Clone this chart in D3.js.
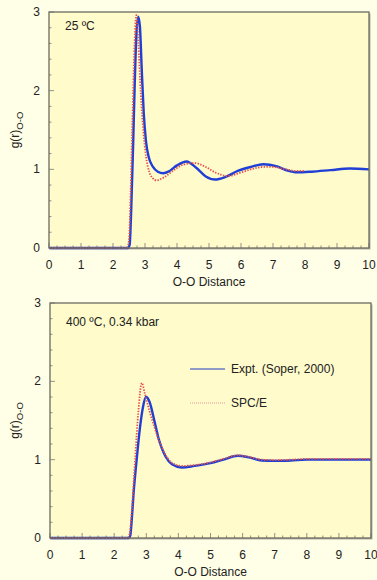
<!DOCTYPE html>
<html>
<head>
<meta charset="utf-8">
<script src="https://cdn.jsdelivr.net/npm/d3@7"></script>
<style>
  body { margin: 0; background: #fffee6; }
  svg { display: block; font-family: "Liberation Sans", Arial, sans-serif; }
</style>
</head>
<body>
<svg id="chart" width="377" height="580"></svg>
<script>
// tick labels
const xTicks = [0, 1, 2, 3, 4, 5, 6, 7, 8, 9, 10];
const yTicks = [0, 1, 2, 3];

// 25 C, experiment (Soper 2000)
const expt25R = [0, 2.46, 2.52, 2.57, 2.63, 2.68, 2.73, 2.79, 2.84, 2.9, 2.96, 3.03, 3.12, 3.25, 3.4, 3.57, 3.75, 4.0, 4.3, 4.6, 4.9, 5.19, 5.5, 5.9, 6.3, 6.7, 7.1, 7.45, 7.75, 8.2, 8.8, 9.4, 10];
const expt25G = [0, 0, 0.04, 0.5, 1.33, 2.1, 2.7, 2.94, 2.82, 2.25, 1.72, 1.36, 1.15, 1.03, 0.97, 0.95, 0.975, 1.05, 1.1, 1.02, 0.91, 0.87, 0.9, 0.98, 1.03, 1.064, 1.04, 0.985, 0.962, 0.97, 0.99, 1.01, 1.0];
// 25 C, SPC/E
const spce25R = [0, 2.44, 2.5, 2.55, 2.6, 2.65, 2.7, 2.73, 2.79, 2.87, 2.95, 3.03, 3.14, 3.25, 3.36, 3.6, 3.9, 4.2, 4.55, 4.9, 5.2, 5.6, 6.0, 6.4, 6.7, 7.0, 7.4, 7.7, 8.0];
const spce25G = [0, 0, 0.1, 0.7, 1.5, 2.3, 2.85, 2.96, 2.62, 1.95, 1.48, 1.17, 0.96, 0.885, 0.86, 0.9, 0.99, 1.06, 1.08, 1.03, 0.96, 0.915, 0.96, 1.01, 1.03, 1.03, 1.0, 0.98, 0.98];

// 400 C, 0.34 kbar, experiment
const expt400R = [0, 2.45, 2.5, 2.55, 2.6, 2.7, 2.8, 2.9, 2.99, 3.1, 3.25, 3.37, 3.6, 3.8, 4.1, 4.5, 5.0, 5.4, 5.85, 6.2, 6.6, 7.0, 7.5, 8.0, 9.0, 10];
const expt400G = [0, 0, 0.03, 0.25, 0.55, 1.0, 1.4, 1.68, 1.8, 1.74, 1.5, 1.29, 1.04, 0.94, 0.9, 0.92, 0.955, 1.0, 1.05, 1.03, 0.99, 0.985, 0.99, 1.0, 1.0, 1.0];
// 400 C, SPC/E
const spce400R = [0, 2.42, 2.48, 2.55, 2.65, 2.75, 2.86, 2.95, 3.1, 3.25, 3.4, 3.6, 3.8, 4.1, 4.5, 5.0, 5.4, 5.85, 6.2, 6.6, 7.0, 7.5, 8.0, 9.0, 10];
const spce400G = [0, 0, 0.05, 0.35, 1.0, 1.6, 1.98, 1.85, 1.62, 1.42, 1.24, 1.06, 0.96, 0.92, 0.93, 0.965, 1.01, 1.055, 1.035, 1.0, 0.995, 1.0, 1.01, 1.01, 1.01];

const blue = '#1f3fd6';
const red = '#e2504a';

const svg = d3.select('#chart');

const panels = [
  {box: {l: 49, t: 12, r: 369, b: 248}, label: '25 ºC',
   expt: [expt25R, expt25G], spce: [spce25R, spce25G], legend: false},
  {box: {l: 50, t: 303, r: 371, b: 538}, label: '400 ºC, 0.34 kbar',
   expt: [expt400R, expt400G], spce: [spce400R, spce400G], legend: true}
];

function zip(rs, gs) {
  return rs.map((r, i) => [r, gs[i]]);
}

panels.forEach(p => {
  const b = p.box;
  const x = d3.scaleLinear().domain([0, 10]).range([b.l, b.r]);
  const y = d3.scaleLinear().domain([0, 3]).range([b.b, b.t]);
  const g = svg.append('g');

  // shadow + plot area
  g.append('rect')
    .attr('x', b.l + 1.5).attr('y', b.t + 1.5)
    .attr('width', b.r - b.l).attr('height', b.b - b.t)
    .attr('fill', '#b2b2a2');
  g.append('rect')
    .attr('x', b.l).attr('y', b.t)
    .attr('width', b.r - b.l).attr('height', b.b - b.t)
    .attr('fill', '#fffbcb');

  // minor + major ticks, pointing inward
  const xMinor = d3.range(0, 10.001, 0.25);
  g.selectAll('.xt')
    .data(xMinor)
    .enter()
    .append('line')
    .attr('x1', d => x(d)).attr('x2', d => x(d))
    .attr('y1', b.b)
    .attr('y2', d => b.b - (Math.abs(d - Math.round(d)) < 1e-6 ? 5 : 2.5))
    .attr('stroke', '#777')
    .attr('stroke-width', 0.8);

  const yMinor = d3.range(0, 3.001, 0.2);
  g.selectAll('.yt')
    .data(yMinor)
    .enter()
    .append('line')
    .attr('y1', d => y(d)).attr('y2', d => y(d))
    .attr('x1', b.l)
    .attr('x2', d => b.l + (Math.abs(d - Math.round(d)) < 1e-6 ? 5 : 2.5))
    .attr('stroke', '#777')
    .attr('stroke-width', 0.8);

  g.selectAll('.xl')
    .data(xTicks)
    .enter()
    .append('text')
    .attr('x', d => x(d))
    .attr('y', b.b + 21)
    .attr('text-anchor', 'middle')
    .attr('font-size', 12)
    .attr('fill', '#222')
    .text(d => d);

  g.selectAll('.yl')
    .data(yTicks)
    .enter()
    .append('text')
    .attr('x', b.l - 9)
    .attr('y', d => y(d) + 4)
    .attr('text-anchor', 'end')
    .attr('font-size', 12)
    .attr('fill', '#222')
    .text(d => d);

  g.append('text')
    .attr('x', (b.l + b.r) / 2)
    .attr('y', b.b + 38)
    .attr('text-anchor', 'middle')
    .attr('font-size', 12)
    .attr('fill', '#222')
    .text('O-O Distance');

  const yl = g.append('text')
    .attr('transform', `translate(19, ${(b.t + b.b) / 2}) rotate(-90)`)
    .attr('text-anchor', 'middle')
    .attr('font-size', 12)
    .attr('fill', '#222');
  yl.append('tspan').text('g(r)');
  yl.append('tspan').attr('dy', 4).attr('font-size', 9.5).text('O-O');

  g.append('text')
    .attr('x', b.l + 16)
    .attr('y', b.t + (p.legend ? 23 : 18))
    .attr('font-size', 12)
    .attr('fill', '#222')
    .text(p.label);

  const line = d3.line()
    .x(d => x(d[0]))
    .y(d => y(d[1]))
    .curve(d3.curveMonotoneX);

  g.append('path')
    .attr('d', line(zip(p.expt[0], p.expt[1])))
    .attr('fill', 'none')
    .attr('stroke', blue)
    .attr('stroke-width', 2.4);

  g.append('path')
    .attr('d', line(zip(p.spce[0], p.spce[1])))
    .attr('fill', 'none')
    .attr('stroke', red)
    .attr('stroke-width', 1.8)
    .attr('stroke-dasharray', '1.4,1.4');

  // frame
  g.append('rect')
    .attr('x', b.l).attr('y', b.t)
    .attr('width', b.r - b.l).attr('height', b.b - b.t)
    .attr('fill', 'none')
    .attr('stroke', '#6a6a62')
    .attr('stroke-width', 1.3);

  if (p.legend) {
    const items = [
      {name: 'Expt. (Soper, 2000)', color: '#6c7cc4', dash: null, w: 1.6, y: b.t + 66},
      {name: 'SPC/E', color: '#ee9a96', dash: '1,1', w: 1.2, y: b.t + 100}
    ];
    items.forEach(it => {
      g.append('line')
        .attr('x1', 190).attr('x2', 225)
        .attr('y1', it.y).attr('y2', it.y)
        .attr('stroke', it.color)
        .attr('stroke-width', it.w)
        .attr('stroke-dasharray', it.dash);
      g.append('text')
        .attr('x', 231)
        .attr('y', it.y + 4)
        .attr('font-size', 12)
        .attr('fill', '#222')
        .text(it.name);
    });
  }
});
</script>
</body>
</html>
